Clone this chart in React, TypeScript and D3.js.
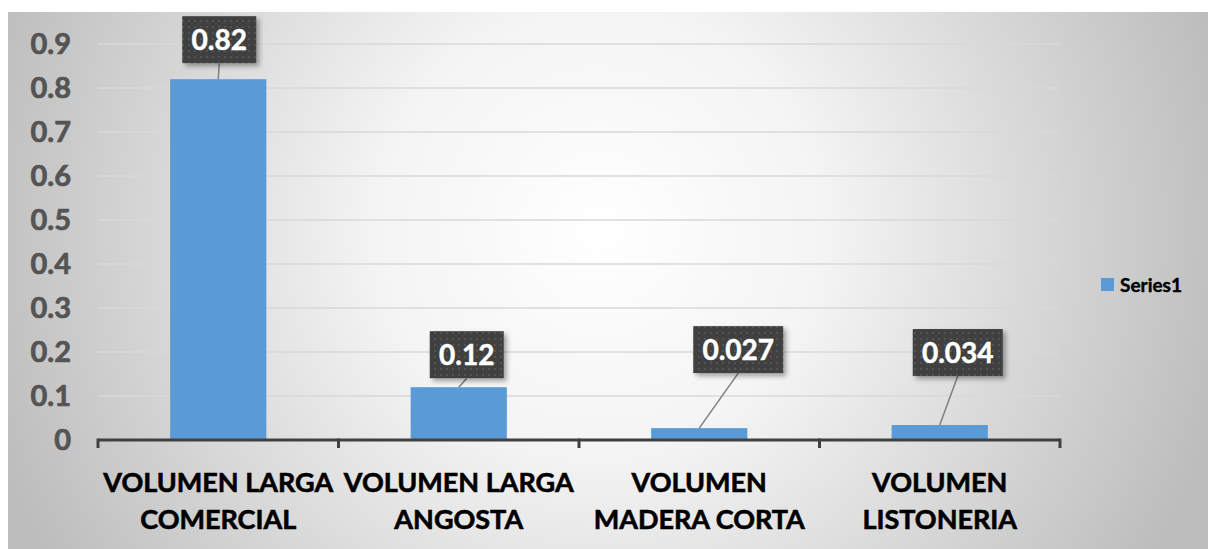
import { useEffect, useRef } from 'react'
import * as d3 from 'd3'

const categories = [
  ['VOLUMEN LARGA', 'COMERCIAL'],
  ['VOLUMEN LARGA', 'ANGOSTA'],
  ['VOLUMEN', 'MADERA CORTA'],
  ['VOLUMEN', 'LISTONERIA'],
]
const values = [0.82, 0.12, 0.027, 0.034]
const valueLabels = ['0.82', '0.12', '0.027', '0.034']
const yTicks = [0, 0.1, 0.2, 0.3, 0.4, 0.5, 0.6, 0.7, 0.8, 0.9]
const seriesName = 'Series1'
// label box offsets from bar centre / bar top (px), as placed in the original
const labelOffsets = [
  { dx: 1, dy: -16 },
  { dx: 8, dy: -9 },
  { dx: 39, dy: -55 },
  { dx: 18, dy: -49 },
]

const W = 1208
const H = 549
const FONT = 'Lato, "Open Sans", sans-serif'

export default function App() {
  const svgRef = useRef<SVGSVGElement>(null)

  useEffect(() => {
    if (!svgRef.current) return
    const root = d3.select(svgRef.current)
    root.selectAll('*').remove()

    const defs = root.append('defs')
    const grad = defs
      .append('radialGradient')
      .attr('id', 'bg')
      .attr('gradientUnits', 'userSpaceOnUse')
      .attr('cx', 600)
      .attr('cy', 230)
      .attr('r', 640)
    grad.append('stop').attr('offset', '0%').attr('stop-color', '#ffffff')
    grad.append('stop').attr('offset', '35%').attr('stop-color', '#f4f4f4')
    grad.append('stop').attr('offset', '100%').attr('stop-color', '#bdbdbd')

    const pat = defs
      .append('pattern')
      .attr('id', 'dots')
      .attr('width', 6)
      .attr('height', 6)
      .attr('patternUnits', 'userSpaceOnUse')
    pat.append('rect').attr('width', 6).attr('height', 6).attr('fill', '#3f3f3f')
    pat.append('circle').attr('cx', 3).attr('cy', 3).attr('r', 1).attr('fill', '#5a5a5a')

    const shadow = defs.append('filter').attr('id', 'shadow').attr('x', '-20%').attr('y', '-20%').attr('width', '150%').attr('height', '160%')
    shadow
      .append('feDropShadow')
      .attr('dx', 3)
      .attr('dy', 3)
      .attr('stdDeviation', 2.5)
      .attr('flood-color', '#000')
      .attr('flood-opacity', 0.35)

    // chart panel
    root.append('rect').attr('x', 0).attr('y', 0).attr('width', W).attr('height', H).attr('fill', '#ffffff')
    root.append('rect').attr('x', 8).attr('y', 12).attr('width', W - 8).attr('height', H - 12).attr('fill', 'url(#bg)')

    const margin = { left: 98, right: 148, top: 44, bottom: 109 }
    const x = d3
      .scaleBand<number>()
      .domain(values.map((_, i) => i))
      .range([margin.left, W - margin.right])
      .paddingInner(0)
      .paddingOuter(0)
    const y = d3.scaleLinear().domain([0, 0.9]).range([H - margin.bottom, margin.top])

    // gridlines
    root
      .append('g')
      .selectAll('line')
      .data(yTicks.slice(1))
      .enter()
      .append('line')
      .attr('x1', margin.left)
      .attr('x2', W - margin.right)
      .attr('y1', (d) => y(d))
      .attr('y2', (d) => y(d))
      .attr('stroke', '#d9d9d9')
      .attr('stroke-width', 1.3)

    // y tick labels
    root
      .append('g')
      .selectAll('text')
      .data(yTicks)
      .enter()
      .append('text')
      .attr('x', 71)
      .attr('y', (d) => y(d))
      .attr('dy', '0.36em')
      .attr('text-anchor', 'end')
      .attr('font-family', FONT)
      .attr('font-weight', 'bold')
      .attr('font-size', 29)
      .attr('fill', '#545454')
      .attr('stroke', '#545454')
      .attr('stroke-width', 0.7)
      .text((d) => (d === 0 ? '0' : d3.format('.1f')(d)))

    const barW = x.bandwidth() * 0.4
    // bars
    root
      .append('g')
      .selectAll('rect')
      .data(values)
      .enter()
      .append('rect')
      .attr('x', (_, i) => x(i)! + (x.bandwidth() - barW) / 2)
      .attr('y', (d) => y(d))
      .attr('width', barW)
      .attr('height', (d) => y(0) - y(d))
      .attr('fill', '#5b9bd5')

    // x axis
    const axisY = y(0)
    const ax = root.append('g').attr('stroke', '#404040').attr('fill', 'none')
    ax.append('line')
      .attr('x1', margin.left)
      .attr('x2', W - margin.right)
      .attr('y1', axisY)
      .attr('y2', axisY)
      .attr('stroke-width', 3)
    const bounds = values.map((_, i) => x(i)!).concat([x(values.length - 1)! + x.bandwidth()])
    ax.selectAll('line.tick')
      .data(bounds)
      .enter()
      .append('line')
      .attr('class', 'tick')
      .attr('x1', (d) => d)
      .attr('x2', (d) => d)
      .attr('y1', axisY - 1.5)
      .attr('y2', axisY + 8)
      .attr('stroke-width', 3)

    // category labels
    const cat = root
      .append('g')
      .selectAll('text')
      .data(categories)
      .enter()
      .append('text')
      .attr('x', (_, i) => x(i)! + x.bandwidth() / 2)
      .attr('y', 492)
      .attr('text-anchor', 'middle')
      .attr('font-family', FONT)
      .attr('font-weight', 'bold')
      .attr('font-size', 27)
      .attr('fill', '#000')
      .attr('stroke', '#000')
      .attr('stroke-width', 0.6)
    cat
      .selectAll('tspan')
      .data((d) => d)
      .enter()
      .append('tspan')
      .attr('x', function () {
        return (this as SVGTSpanElement).parentElement!.getAttribute('x')
      })
      .attr('dy', (_, j) => (j === 0 ? 0 : 37))
      .text((d) => d)

    // data labels with leader lines
    const lbl = root.append('g')
    values.forEach((v, i) => {
      const cx = x(i)! + x.bandwidth() / 2
      const top = y(v)
      const off = labelOffsets[i]
      const text = valueLabels[i]
      const bw = text.length > 4 ? 90 : 74
      const bh = 47
      const bx = cx + off.dx - bw / 2
      const byBottom = top + off.dy
      const by = byBottom - bh
      lbl.append('line')
        .attr('x1', bx + bw / 2)
        .attr('y1', byBottom)
        .attr('x2', cx)
        .attr('y2', top)
        .attr('stroke', '#7f7f7f')
        .attr('stroke-width', 1.5)
      lbl.append('rect')
        .attr('x', bx)
        .attr('y', by)
        .attr('width', bw)
        .attr('height', bh)
        .attr('fill', 'url(#dots)')
        .attr('filter', 'url(#shadow)')
      lbl.append('text')
        .attr('x', bx + bw / 2)
        .attr('y', by + bh / 2)
        .attr('dy', '0.36em')
        .attr('text-anchor', 'middle')
        .attr('font-family', FONT)
        .attr('font-weight', 'bold')
        .attr('font-size', 28)
        .attr('fill', '#ffffff')
        .attr('stroke', '#ffffff')
        .attr('stroke-width', 0.5)
        .text(text)
    })

    // legend
    const lg = root.append('g').attr('transform', `translate(1101, 285)`)
    lg.append('rect').attr('x', 0).attr('y', -7).attr('width', 13).attr('height', 13).attr('fill', '#5b9bd5')
    lg.append('text')
      .attr('x', 19)
      .attr('y', 0)
      .attr('dy', '0.36em')
      .attr('font-family', FONT)
      .attr('font-weight', 'bold')
      .attr('font-size', 19)
      .attr('fill', '#000')
      .attr('stroke', '#000')
      .attr('stroke-width', 0.4)
      .text(seriesName)
  }, [])

  return (
    <div style={{ position: 'absolute', left: 0, top: 0 }}>
      <svg ref={svgRef} width={W} height={H} style={{ display: 'block' }}></svg>
    </div>
  )
}
